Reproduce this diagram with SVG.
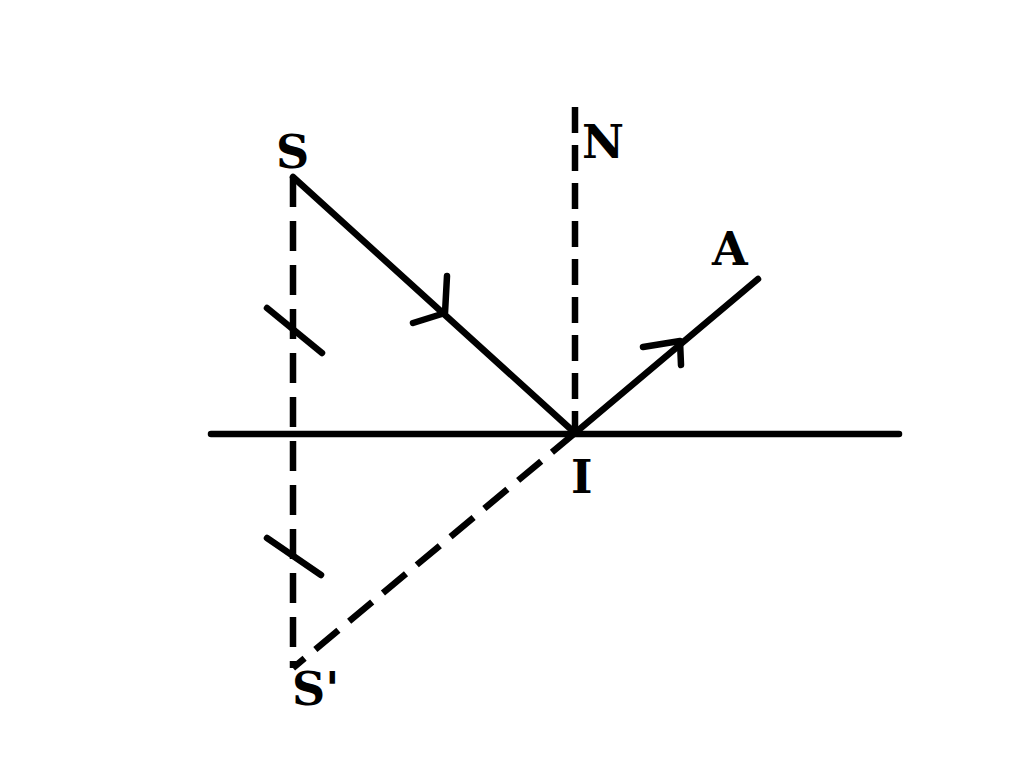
<svg xmlns="http://www.w3.org/2000/svg" width="1024" height="759" viewBox="0 0 1024 759">
<style>
.s{stroke:#000;stroke-width:6.5;fill:none;stroke-linecap:round;stroke-linejoin:round}
.d{stroke:#000;stroke-width:6.5;fill:none;stroke-dasharray:30,14}
.dn{stroke:#000;stroke-width:6.5;fill:none;stroke-dasharray:26,12}
.t{font-family:"DejaVu Serif","Liberation Serif",serif;font-size:46px;font-weight:bold;fill:#000}
</style>
<rect width="1024" height="759" fill="#fff"/>
<g id="connectors">
<line class="s" x1="211" y1="434" x2="899" y2="434"/>
<line class="dn" x1="575" y1="107" x2="575" y2="433"/>
<line class="d" x1="293" y1="177" x2="293" y2="668"/>
<line class="d" x1="575" y1="433" x2="293" y2="668"/>
<line class="s" x1="293" y1="177" x2="575" y2="433"/>
<line class="s" x1="575" y1="433" x2="758" y2="279"/>
<polyline class="s" points="447,276 445,313 413,323"/>
<polyline class="s" points="643,347 680,341 681,365"/>
<line class="s" x1="267" y1="308" x2="322" y2="353"/>
<line class="s" x1="267" y1="538" x2="321" y2="575"/>
</g>
<g id="S"><text class="t" x="276" y="168">S</text></g>
<g id="N"><text class="t" x="582" y="158">N</text></g>
<g id="A"><text class="t" x="712" y="265">A</text></g>
<g id="I"><text class="t" x="571" y="493">I</text></g>
<g id="Sprime"><text class="t" x="292" y="705">S'</text></g>
</svg>
